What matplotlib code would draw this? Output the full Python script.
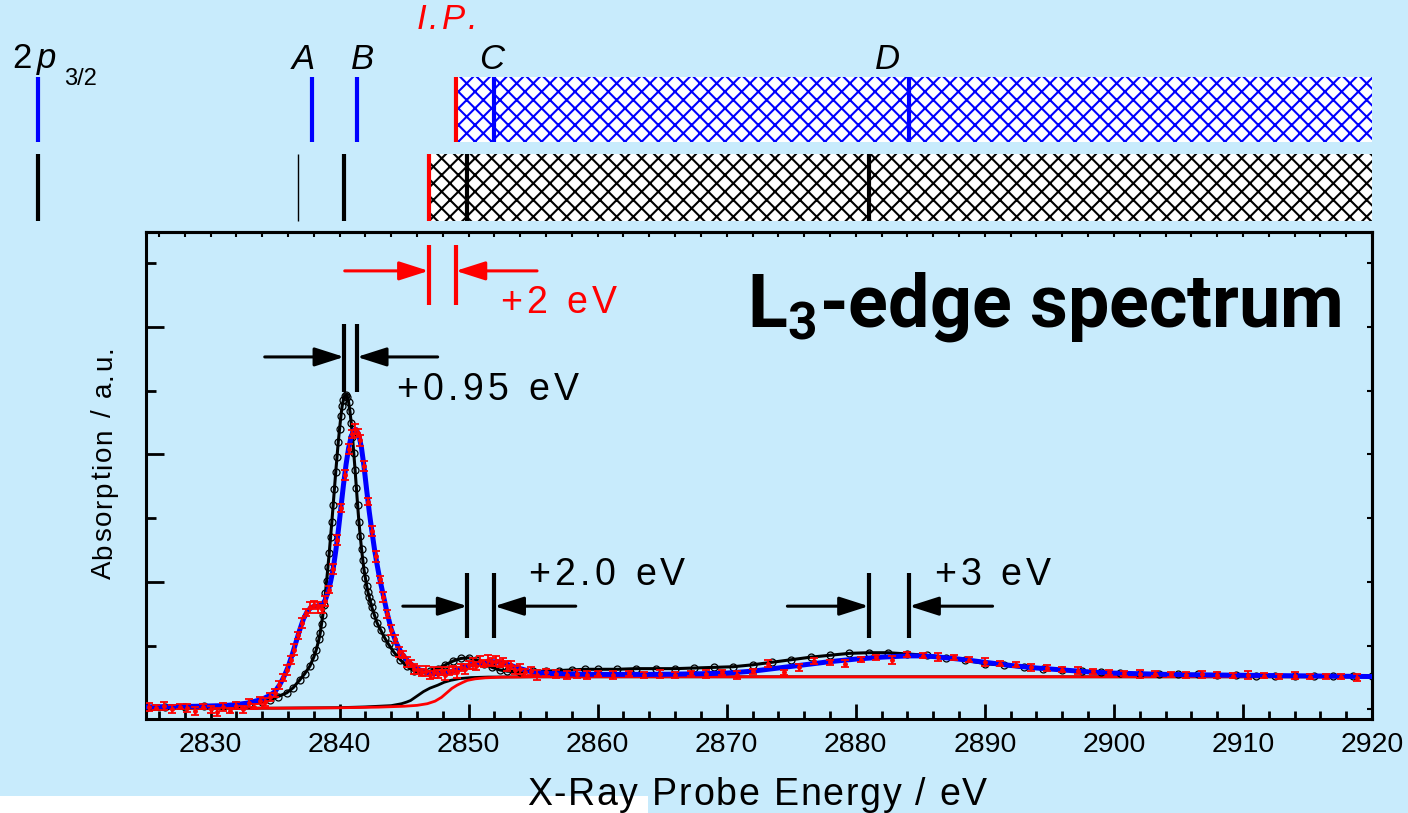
import numpy as np
import matplotlib
matplotlib.use('Agg')
import matplotlib.pyplot as plt
from matplotlib.patches import Rectangle
from matplotlib.ticker import MultipleLocator, NullFormatter
from matplotlib.textpath import TextToPath
from matplotlib.font_manager import FontProperties
from matplotlib.transforms import offset_copy

# ---------------- data ----------------
black_energy = [2825.0, 2826.5, 2828.0, 2829.5, 2831.0, 2832.0, 2833.0, 2834.0, 2834.6, 2835.2,
                2835.9, 2836.4, 2836.9, 2837.3, 2837.7, 2838.0, 2838.2, 2838.4, 2838.5, 2838.6,
                2838.7, 2838.8, 2838.9, 2839.0, 2839.1, 2839.2, 2839.3, 2839.4, 2839.5, 2839.6,
                2839.7, 2839.8, 2839.9, 2840.0, 2840.1, 2840.2, 2840.3, 2840.4, 2840.5, 2840.6,
                2840.7, 2840.8, 2840.9, 2841.0, 2841.1, 2841.2, 2841.3, 2841.4, 2841.5, 2841.6,
                2841.7, 2841.8, 2841.9, 2842.0, 2842.1, 2842.2, 2842.3, 2842.4, 2842.5, 2842.7,
                2842.9, 2843.2, 2843.5, 2843.8, 2844.2, 2844.7, 2845.2, 2845.8, 2846.4, 2847.0,
                2847.6, 2848.2, 2848.8, 2849.4, 2850.0, 2850.6, 2851.2, 2851.8, 2852.4, 2853.0,
                2854.0, 2855.0, 2856.0, 2857.0, 2858.0, 2859.0, 2860.0, 2861.5, 2863.0, 2864.5,
                2866.0, 2867.5, 2869.0, 2870.5, 2872.0, 2873.5, 2875.0, 2876.5, 2878.0, 2879.5,
                2881.0, 2882.5, 2884.0, 2885.5, 2887.0, 2888.5, 2890.0, 2891.5, 2893.0, 2894.5,
                2896.0, 2897.5, 2899.0, 2900.5, 2902.0, 2903.5, 2905.0, 2906.5, 2908.0, 2909.5,
                2911.0, 2912.5, 2914.0, 2915.5, 2917.0, 2918.5, 2920.0]
black_absorb = [0.015, 0.018, 0.02, 0.025, 0.03, 0.035, 0.045, 0.06, 0.075, 0.10,
                0.13, 0.17, 0.23, 0.28, 0.34, 0.41, 0.47, 0.55, 0.60, 0.67,
                0.74, 0.82, 0.91, 1.01, 1.12, 1.23, 1.35, 1.47, 1.60, 1.73,
                1.86, 1.98, 2.10, 2.20, 2.30, 2.38, 2.43, 2.46, 2.47, 2.45,
                2.41, 2.34, 2.25, 2.14, 2.01, 1.88, 1.74, 1.60, 1.47, 1.36,
                1.26, 1.17, 1.09, 1.03, 0.97, 0.92, 0.88, 0.84, 0.80, 0.74,
                0.68, 0.62, 0.56, 0.51, 0.45, 0.39, 0.34, 0.30, 0.29, 0.30,
                0.32, 0.35, 0.38, 0.40, 0.405, 0.39, 0.36, 0.33, 0.31, 0.30,
                0.295, 0.30, 0.30, 0.305, 0.31, 0.315, 0.315, 0.315, 0.32, 0.32,
                0.32, 0.325, 0.33, 0.335, 0.35, 0.37, 0.39, 0.41, 0.425, 0.44,
                0.445, 0.445, 0.435, 0.425, 0.405, 0.385, 0.36, 0.345, 0.33, 0.32,
                0.31, 0.30, 0.29, 0.285, 0.28, 0.28, 0.275, 0.275, 0.27, 0.27,
                0.265, 0.265, 0.265, 0.26, 0.26, 0.26, 0.26]

blue_energy = [2825.0, 2827.0, 2829.0, 2831.0, 2832.0, 2833.0, 2834.0, 2834.6, 2835.0, 2835.4,
               2835.7, 2836.0, 2836.3, 2836.6, 2836.9, 2837.2, 2837.5, 2837.8, 2838.1, 2838.4,
               2838.7, 2838.9, 2839.1, 2839.3, 2839.5, 2839.7, 2839.9, 2840.1, 2840.3, 2840.5,
               2840.7, 2840.9, 2841.1, 2841.3, 2841.5, 2841.7, 2841.9, 2842.1, 2842.3, 2842.5,
               2842.7, 2842.9, 2843.1, 2843.4, 2843.7, 2844.0, 2844.4, 2844.8, 2845.2, 2845.7,
               2846.2, 2846.8, 2847.4, 2848.0, 2848.6, 2849.2, 2849.8, 2850.4, 2851.0, 2851.6,
               2852.2, 2852.8, 2853.4, 2854.0, 2854.7, 2855.5, 2856.5, 2858.0, 2860.0, 2862.0,
               2864.0, 2866.0, 2868.0, 2870.0, 2872.0, 2874.0, 2876.0, 2878.0, 2880.0, 2882.0,
               2884.0, 2885.0, 2886.0, 2888.0, 2890.0, 2892.0, 2894.0, 2896.0, 2898.0, 2900.0,
               2902.0, 2904.0, 2906.0, 2908.0, 2910.0, 2912.0, 2914.0, 2916.0, 2918.0, 2920.0]
blue_absorb = [0.02, 0.022, 0.025, 0.03, 0.038, 0.052, 0.08, 0.11, 0.14, 0.20,
               0.26, 0.33, 0.42, 0.52, 0.62, 0.71, 0.77, 0.80, 0.81, 0.81,
               0.83, 0.86, 0.92, 1.00, 1.10, 1.24, 1.40, 1.58, 1.76, 1.92,
               2.05, 2.14, 2.19, 2.195, 2.15, 2.05, 1.90, 1.72, 1.55, 1.40,
               1.26, 1.14, 1.03, 0.89, 0.75, 0.63, 0.52, 0.44, 0.39, 0.34,
               0.31, 0.29, 0.28, 0.283, 0.295, 0.315, 0.34, 0.355, 0.367, 0.375,
               0.373, 0.36, 0.34, 0.32, 0.30, 0.288, 0.282, 0.278, 0.275, 0.275,
               0.275, 0.277, 0.28, 0.285, 0.30, 0.325, 0.35, 0.375, 0.395, 0.41,
               0.42, 0.42, 0.415, 0.395, 0.37, 0.345, 0.325, 0.31, 0.295, 0.285,
               0.28, 0.275, 0.272, 0.27, 0.268, 0.266, 0.264, 0.262, 0.26, 0.258]

red_energy_pre = [2825.2, 2825.8, 2826.4, 2827.0, 2827.6, 2828.2, 2828.8, 2829.4, 2830.0, 2830.5,
                  2831.0, 2831.5, 2832.0, 2832.5, 2833.0, 2833.4, 2833.8, 2834.2, 2834.6, 2835.0]
red_absorb_pre = [0.02, 0.015, 0.025, 0.005, 0.02, 0.01, -0.01, 0.02, 0.0, -0.02,
                  0.02, -0.01, 0.03, 0.0, 0.05, 0.02, 0.07, 0.06, 0.10, 0.13]
red_err_pre = [0.03, 0.02, 0.03, 0.03, 0.02, 0.03, 0.03, 0.02, 0.03, 0.03,
               0.03, 0.02, 0.03, 0.03, 0.03, 0.02, 0.03, 0.03, 0.03, 0.03]

red_energy_edge = [2835.3, 2835.6, 2835.9, 2836.2, 2836.5, 2836.8, 2837.1, 2837.4, 2837.7, 2838.0,
                   2838.3, 2838.6, 2838.9, 2839.2, 2839.5, 2839.8, 2840.1, 2840.4, 2840.7, 2841.0,
                   2841.2, 2841.4, 2841.6, 2841.9, 2842.2, 2842.5, 2842.8, 2843.1, 2843.4, 2843.7,
                   2844.0, 2844.3, 2844.6, 2844.9, 2845.2, 2845.5, 2845.8, 2846.1, 2846.4, 2846.7,
                   2847.0, 2847.3, 2847.6, 2847.9, 2848.2, 2848.5, 2848.8, 2849.1, 2849.4, 2849.7,
                   2850.0, 2850.3, 2850.6, 2850.9, 2851.2, 2851.5, 2851.8, 2852.1, 2852.4, 2852.7,
                   2853.0, 2853.3, 2853.6, 2854.0, 2854.4, 2854.8, 2855.3, 2856.0, 2856.8, 2857.6,
                   2858.4, 2859.2]
red_absorb_edge = [0.19, 0.25, 0.31, 0.39, 0.47, 0.58, 0.68, 0.76, 0.80, 0.82,
                   0.80, 0.79, 0.85, 0.94, 1.10, 1.33, 1.58, 1.84, 2.04, 2.16,
                   2.20, 2.17, 2.11, 1.91, 1.63, 1.40, 1.20, 1.02, 0.88, 0.75,
                   0.62, 0.55, 0.45, 0.43, 0.37, 0.36, 0.32, 0.31, 0.29, 0.30,
                   0.27, 0.29, 0.28, 0.30, 0.27, 0.30, 0.31, 0.29, 0.33, 0.32,
                   0.35, 0.36, 0.34, 0.38, 0.36, 0.39, 0.37, 0.38, 0.36, 0.37,
                   0.34, 0.35, 0.31, 0.32, 0.29, 0.30, 0.27, 0.29, 0.28, 0.27,
                   0.28, 0.27]
red_err_edge = [0.03, 0.03, 0.04, 0.03, 0.04, 0.03, 0.04, 0.03, 0.04, 0.03,
                0.04, 0.03, 0.04, 0.03, 0.04, 0.04, 0.03, 0.04, 0.04, 0.03,
                0.04, 0.03, 0.04, 0.04, 0.03, 0.04, 0.04, 0.03, 0.04, 0.03,
                0.04, 0.03, 0.04, 0.03, 0.04, 0.03, 0.04, 0.03, 0.03, 0.04,
                0.03, 0.04, 0.03, 0.03, 0.04, 0.03, 0.03, 0.04, 0.03, 0.04,
                0.03, 0.04, 0.03, 0.04, 0.03, 0.04, 0.03, 0.04, 0.03, 0.03,
                0.04, 0.03, 0.03, 0.04, 0.03, 0.03, 0.04, 0.03, 0.03, 0.03,
                0.03, 0.03]

red_energy_post = [2860.0, 2861.2, 2862.4, 2863.6, 2864.8, 2866.0, 2867.2, 2868.4, 2869.6, 2870.8,
                   2872.0, 2873.2, 2874.4, 2875.6, 2876.8, 2878.0, 2879.2, 2880.4, 2881.6, 2882.8,
                   2884.0, 2885.2, 2886.4, 2887.6, 2888.8, 2890.0, 2891.2, 2892.4, 2893.6, 2894.8,
                   2896.0, 2897.2, 2898.4, 2899.6, 2900.8, 2902.0, 2903.2, 2904.4, 2905.6, 2906.8,
                   2908.0, 2909.2, 2910.4, 2911.6, 2912.8, 2914.0, 2915.2, 2916.4, 2917.6, 2918.8]
red_absorb_post = [0.28, 0.27, 0.285, 0.27, 0.28, 0.27, 0.285, 0.28, 0.29, 0.27,
                   0.30, 0.36, 0.29, 0.33, 0.38, 0.37, 0.36, 0.39, 0.41, 0.39,
                   0.43, 0.42, 0.41, 0.41, 0.39, 0.37, 0.36, 0.35, 0.33, 0.325,
                   0.31, 0.305, 0.30, 0.29, 0.285, 0.28, 0.28, 0.275, 0.27, 0.275,
                   0.27, 0.265, 0.27, 0.265, 0.26, 0.265, 0.255, 0.26, 0.255, 0.25]
red_err_post = [0.02, 0.03, 0.02, 0.02, 0.03, 0.02, 0.02, 0.03, 0.02, 0.03,
                0.02, 0.03, 0.02, 0.03, 0.02, 0.02, 0.03, 0.02, 0.02, 0.03,
                0.02, 0.02, 0.03, 0.02, 0.02, 0.03, 0.02, 0.02, 0.03, 0.02,
                0.02, 0.03, 0.02, 0.02, 0.02, 0.03, 0.02, 0.02, 0.02, 0.03,
                0.02, 0.02, 0.03, 0.02, 0.02, 0.03, 0.02, 0.02, 0.02, 0.03]

red_step_energy = [2825.0, 2835.0, 2840.0, 2843.0, 2845.0, 2846.0, 2846.8, 2847.4, 2847.9, 2848.3,
                   2848.7, 2849.1, 2849.5, 2849.9, 2850.5, 2851.3, 2852.5, 2855.0, 2920.0]
red_step_absorb = [0.008, 0.01, 0.013, 0.018, 0.025, 0.032, 0.045, 0.065, 0.095, 0.13,
                   0.165, 0.19, 0.21, 0.228, 0.24, 0.248, 0.253, 0.256, 0.256]
black_step_energy = [2825.0, 2835.0, 2840.0, 2842.0, 2844.0, 2844.8, 2845.2, 2845.5, 2846.0, 2846.5,
                     2847.0, 2847.6, 2848.1, 2848.6, 2849.3, 2850.2, 2851.5, 2855.0, 2920.0]
black_step_absorb = [0.008, 0.01, 0.014, 0.02, 0.03, 0.045, 0.058, 0.07, 0.105, 0.14,
                     0.167, 0.19, 0.213, 0.228, 0.242, 0.25, 0.254, 0.256, 0.256]

# level energies (2p3/2, A, B, C, D) and ionisation potentials
level_names = ['2p3/2', 'A', 'B', 'C', 'D']
black_levels = [2816.6, 2836.8, 2840.35, 2849.9, 2881.0]
blue_levels = [2816.6, 2837.9, 2841.35, 2852.0, 2884.15]
ip_black = 2846.9
ip_blue = 2849.0
shift_labels = ['+0.95 eV', '+2 eV', '+2.0 eV', '+3 eV']

# ---------------- style / layout ----------------
W, H, DPI = 1408, 813, 100
BG = '#C8EBFC'
FONT = ['Liberation Sans', 'DejaVu Sans']
plt.rcParams['font.family'] = FONT
plt.rcParams['hatch.linewidth'] = 1.5
plt.rcParams['mathtext.fontset'] = 'custom'
plt.rcParams['mathtext.rm'] = 'Roboto'
plt.rcParams['mathtext.bf'] = 'Roboto:bold'

fig = plt.figure(figsize=(W / DPI, H / DPI), dpi=DPI, facecolor=BG)


def px_box(l, t, r, b):
    return [l / W, 1 - b / H, (r - l) / W, (b - t) / H]


_t2p = TextToPath()


def tracked(x, y, s, size, track_px, color='black', ha='left', rotation=0, style='normal'):
    fp = FontProperties(family=FONT, size=size, style=style)
    base = _t2p.get_text_width_height_descent('xx', fp, ismath=False)[0]
    adv = [_t2p.get_text_width_height_descent('x' + c + 'x', fp, ismath=False)[0] - base for c in s]
    tr_pt = track_px * 72 / DPI
    total = sum(adv) + tr_pt * (len(s) - 1)
    pos = {'left': 0.0, 'center': -total / 2, 'right': -total}[ha]
    for c, a in zip(s, adv):
        dx, dy = (0, pos) if rotation == 90 else (pos, 0)
        t = offset_copy(fig.transFigure, fig=fig, x=dx, y=dy, units='points')
        fig.text(x / W, 1 - y / H, c, transform=t, fontproperties=fp, color=color,
                 ha='left', va='baseline', rotation=rotation, rotation_mode='anchor', zorder=10)
        pos += a + tr_pt


# main axes
XL, XR = 2825, 2920
ax = fig.add_axes(px_box(146, 232, 1372, 719))
ax.set_facecolor(BG)
ax.set_xlim(XL, XR)
ax.set_ylim(-0.075, 3.745)

ax.plot(black_step_energy, black_step_absorb, color='black', lw=2.0, zorder=2)
ax.plot(red_step_energy, red_step_absorb, color='red', lw=2.0, zorder=2.1)
ax.plot(black_energy, black_absorb, color='black', lw=2.2, zorder=3)
ax.plot(black_energy, black_absorb, 'o', ms=5, mfc='none', mec='black', mew=0.9, zorder=3.1)
ax.plot(blue_energy, blue_absorb, color='blue', lw=3.6, zorder=4)
ax.errorbar(red_energy_pre + red_energy_edge + red_energy_post,
            red_absorb_pre + red_absorb_edge + red_absorb_post,
            yerr=red_err_pre + red_err_edge + red_err_post,
            fmt='o', ms=2.5, color='red', ecolor='red', elinewidth=1.3,
            capsize=3, capthick=1.3, zorder=5)

# shift markers
def shift_marker(e1, e2, y0, y1, ya, left_from, right_from, color):
    ax.vlines([e1, e2], y0, y1, colors=color, lw=3, zorder=6)
    kw = dict(arrowstyle='-|>,head_length=1.0,head_width=0.32', color=color, lw=2.2,
              mutation_scale=18, shrinkA=0, shrinkB=0)
    ax.annotate('', xy=(e1, ya), xytext=(left_from, ya), arrowprops=kw, zorder=6)
    ax.annotate('', xy=(e2, ya), xytext=(right_from, ya), arrowprops=kw, zorder=6)

shift_marker(black_levels[2], blue_levels[2], 2.49, 3.02, 2.765, 2834.2, 2847.6, 'black')
shift_marker(ip_black, ip_blue, 3.17, 3.64, 3.44, 2840.4, 2855.3, 'red')
shift_marker(black_levels[3], blue_levels[3], 0.56, 1.07, 0.81, 2844.9, 2858.3, 'black')
shift_marker(black_levels[4], blue_levels[4], 0.56, 1.07, 0.81, 2874.7, 2890.6, 'black')

tracked(396, 400, shift_labels[0], 27, 4.5)
tracked(500, 313, shift_labels[1], 27, 4.5, color='red')
tracked(528, 585, shift_labels[2], 27, 4.5)
tracked(934, 585, shift_labels[3], 27, 4.5)

fig.text(747 / W, 1 - 327 / H, r'L$_{\mathbf{3}}$-edge spectrum', fontfamily='Roboto',
         fontweight='bold', fontsize=53, ha='left', va='baseline')

# ticks
ax.xaxis.set_major_locator(MultipleLocator(10))
ax.xaxis.set_minor_locator(MultipleLocator(2))
ax.yaxis.set_major_locator(MultipleLocator(1))
ax.yaxis.set_minor_locator(MultipleLocator(0.5))
ax.tick_params(which='both', direction='in', width=2, top=False, right=False)
ax.tick_params(axis='x', which='major', length=11)
ax.tick_params(axis='x', which='minor', length=6)
ax.tick_params(axis='y', which='major', length=13)
ax.tick_params(axis='y', which='minor', length=7.5)
ax.tick_params(axis='x', labelsize=20.5, pad=9)
ax.tick_params(axis='y', labelleft=False)
for sp in ax.spines.values():
    sp.set_linewidth(2.2)

sx = ax.secondary_xaxis('top')
sx.xaxis.set_major_locator(MultipleLocator(2))
sx.xaxis.set_major_formatter(NullFormatter())
sx.tick_params(direction='in', length=3.5, width=1.5)
sx.spines['top'].set_linewidth(2.2)
sy = ax.secondary_yaxis('right')
sy.yaxis.set_major_locator(MultipleLocator(0.5))
sy.yaxis.set_major_formatter(NullFormatter())
sy.tick_params(direction='in', length=3.5, width=1.5)
sy.spines['right'].set_linewidth(2.2)

tracked(111, 462, 'Absorption / a.u.', 20, 2.0, ha='center', rotation=90)
tracked(757, 805, 'X-Ray Probe Energy / eV', 27, 1.8, ha='center')

# top level panel (same energy scale as main axes)
s = (XR - XL) / (1372 - 146)
axt = fig.add_axes([0, 1 - 232 / H, 1, 232 / H])
axt.set_xlim(XL - 146 * s, XL + (W - 146) * s)
axt.set_ylim(232, 0)
axt.axis('off')

axt.add_patch(Rectangle((ip_blue, 77), XR - ip_blue, 65, fc='white', ec='blue', hatch='xx', lw=0))
axt.add_patch(Rectangle((ip_black, 154), XR - ip_black, 67, fc='white', ec='black', hatch='xx', lw=0))
axt.vlines(blue_levels, 77, 142, colors='blue', lw=3)
axt.vlines(black_levels, 154, 221, colors='black', lw=[3, 1, 3, 3, 3])
axt.vlines([ip_blue], 77, 142, colors='red', lw=3)
axt.vlines([ip_black], 154, 221, colors='red', lw=3)

fig.text(12 / W, 1 - 68 / H, '2', fontsize=25)
fig.text(37 / W, 1 - 68 / H, 'p', fontsize=25, style='italic')
fig.text(64 / W, 1 - 85 / H, '3/2', fontsize=17)
for nm, xc in zip(level_names[1:], [303, 362, 492, 887]):
    fig.text(xc / W, 1 - 69 / H, nm, fontsize=25, style='italic', ha='center', va='baseline')
tracked(447, 29, 'I.P.', 25, 3, color='red', ha='center', style='italic')

# white strip of the slide below the chart (bottom left)
fig.add_artist(Rectangle((0, 0), 648 / W, 17 / H, transform=fig.transFigure,
                         fc='white', ec='none', zorder=0))

fig.savefig('out.png', dpi=DPI, facecolor=BG)
